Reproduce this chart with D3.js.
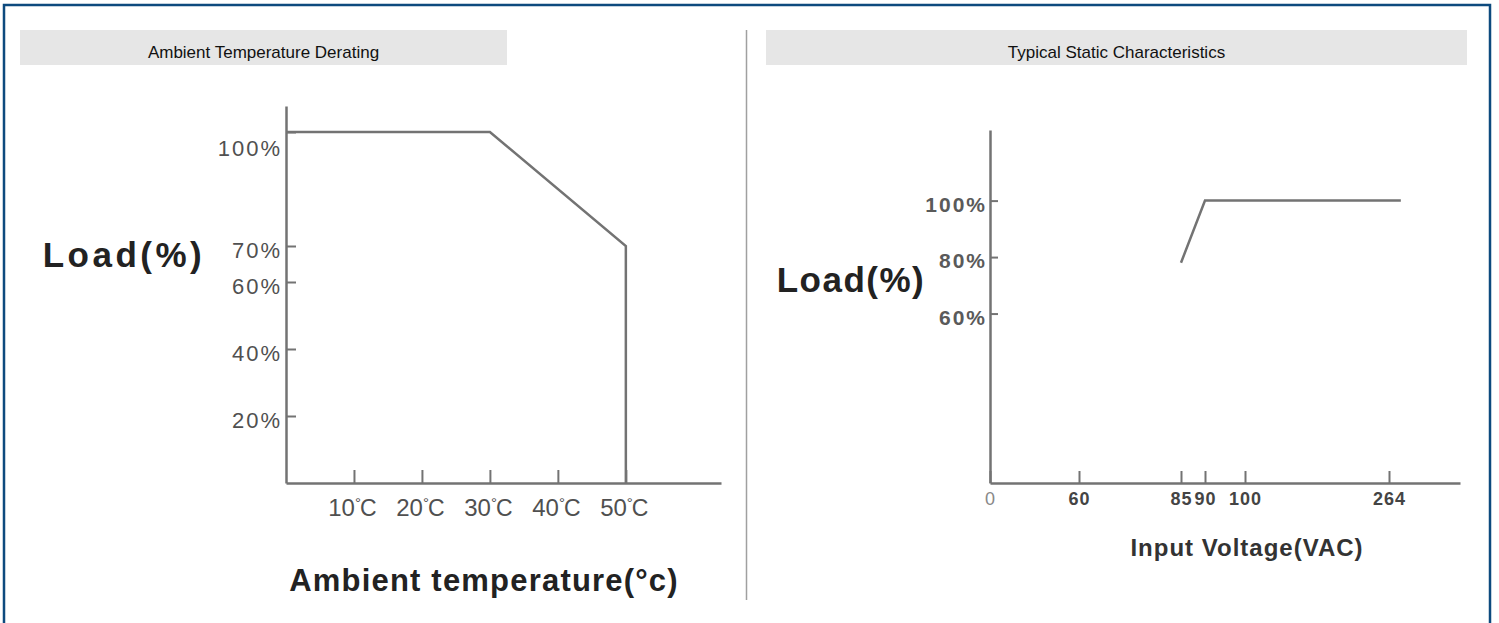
<!DOCTYPE html>
<html>
<head>
<meta charset="utf-8">
<script src="https://cdn.jsdelivr.net/npm/d3@7"></script>
<style>
  body { margin: 0; background: #fff; }
  text { font-family: "Liberation Sans", Arial, sans-serif; }
</style>
</head>
<body>
<svg id="root" width="1499" height="623"></svg>
<script>
// left chart: ambient temperature derating
var tempTicks = [10, 20, 30, 40, 50];
var tempLoadTicks = [20, 40, 60, 70, 100];
var deratingTemp = [0, 30, 50, 50];
var deratingLoad = [100, 100, 70, 0];

// right chart: typical static characteristics
var voltTicks = [0, 60, 85, 90, 100, 264];
var voltLoadTicks = [60, 80, 100];
var staticVolt = [85, 90, 270];
var staticLoad = [78, 100, 100];

var titles = ["Ambient Temperature Derating", "Typical Static Characteristics"];

var svg = d3.select("#root");
var gray = "#737373";

// frame, headers, divider
svg.append("rect").attr("x", 4).attr("y", 5).attr("width", 1486).attr("height", 640)
  .attr("fill", "none").attr("stroke", "#0d4a7e").attr("stroke-width", 2.5);

var headers = [{ x: 20, w: 487 }, { x: 766, w: 701 }];
headers.forEach(function(h, i) {
  svg.append("rect").attr("x", h.x).attr("y", 30).attr("width", h.w).attr("height", 35)
    .attr("fill", "#e6e6e6");
  svg.append("text").attr("x", h.x + h.w / 2).attr("y", 58)
    .attr("text-anchor", "middle").attr("font-size", 17).attr("fill", "#111")
    .text(titles[i]);
});
svg.append("line").attr("x1", 746.5).attr("x2", 746.5).attr("y1", 30).attr("y2", 600)
  .attr("stroke", "#a0a0a0").attr("stroke-width", 1.5);

var lineFunction = d3.line().x(function(d) { return d[0]; }).y(function(d) { return d[1]; });

function styleAxis(g) {
  g.select(".domain").attr("stroke", gray).attr("stroke-width", 2.5);
  g.selectAll(".tick line").attr("stroke", gray).attr("stroke-width", 2);
}

// ---------- left chart ----------
var xL = d3.scaleLinear().domain([0, 64]).range([286, 721]);
var yL = d3.scaleLinear().domain([0, 20, 40, 60, 70, 100, 107]).range([483, 416, 349, 282, 246, 132, 106]);

var left = svg.append("g");

var yAxisL = left.append("g").attr("transform", "translate(" + xL(0) + ",0)")
  .call(d3.axisLeft(yL).tickValues(tempLoadTicks).tickSizeInner(-10).tickSizeOuter(0)
    .tickPadding(4).tickFormat(function(d) { return d + "%"; }));
styleAxis(yAxisL);
yAxisL.selectAll(".tick text")
  .attr("font-size", 22).attr("letter-spacing", 2).attr("fill", "#505050").attr("font-family", null)
  .attr("dy", function(d) { return d === 100 ? "1.05em" : "0.5em"; });

var xAxisL = left.append("g").attr("transform", "translate(0," + yL(0) + ")")
  .call(d3.axisBottom(xL).tickValues(tempTicks).tickSizeInner(-13).tickSizeOuter(0)
    .tickFormat(""));
styleAxis(xAxisL);

var tl = left.selectAll(".tlab").data(tempTicks).enter().append("g").attr("class", "tlab");
tl.append("text").attr("x", function(d) { return xL(d) + 1; }).attr("y", 516)
  .attr("text-anchor", "end").attr("font-size", 24).attr("fill", "#505050")
  .text(function(d) { return d; });
var deg = tl.append("text").attr("x", function(d) { return xL(d) + 1; }).attr("y", 516)
  .attr("fill", "#505050");
deg.append("tspan").attr("font-size", 15).attr("dy", -8).text("°");
deg.append("tspan").attr("font-size", 23).attr("dy", 8).attr("dx", -1).text("C");

left.append("path")
  .attr("d", lineFunction(deratingTemp.map(function(t, i) { return [xL(t), yL(deratingLoad[i])]; })))
  .attr("fill", "none").attr("stroke", gray).attr("stroke-width", 2.5);

left.append("text").attr("x", 124).attr("y", 267).attr("text-anchor", "middle")
  .attr("font-size", 35).attr("font-weight", "bold").attr("letter-spacing", 3.5).attr("fill", "#222")
  .text("Load(%)");
left.append("text").attr("x", 484).attr("y", 591).attr("text-anchor", "middle")
  .attr("font-size", 31).attr("font-weight", "bold").attr("letter-spacing", 1.2).attr("fill", "#222")
  .text("Ambient temperature(°c)");

// ---------- right chart ----------
var xR = d3.scaleLinear().domain([0, 60, 85, 90, 100, 264, 300])
  .range([990, 1079, 1181, 1205, 1245, 1389, 1460]);
var yR = d3.scaleLinear().domain([0, 125]).range([483, 130]);

var right = svg.append("g");

var yAxisR = right.append("g").attr("transform", "translate(" + xR(0) + ",0)")
  .call(d3.axisLeft(yR).tickValues(voltLoadTicks).tickSizeInner(-8).tickSizeOuter(0)
    .tickPadding(3).tickFormat(function(d) { return d + "%"; }));
styleAxis(yAxisR);
yAxisR.selectAll(".tick text")
  .attr("font-size", 21).attr("font-weight", "bold").attr("letter-spacing", 2)
  .attr("fill", "#5a5a5a").attr("font-family", null).attr("dy", "0.5em");

var xAxisR = right.append("g").attr("transform", "translate(0," + yR(0) + ")")
  .call(d3.axisBottom(xR).tickValues(voltTicks).tickSizeInner(-12).tickSizeOuter(0).tickPadding(9));
styleAxis(xAxisR);
xAxisR.selectAll(".tick text")
  .attr("font-size", 18).attr("font-family", null)
  .attr("font-weight", function(d) { return d === 0 ? "normal" : "bold"; })
  .attr("fill", function(d) { return d === 0 ? "#888" : "#444"; })
  .attr("letter-spacing", 1);

right.append("path")
  .attr("d", lineFunction(staticVolt.map(function(v, i) { return [xR(v), yR(staticLoad[i])]; })))
  .attr("fill", "none").attr("stroke", gray).attr("stroke-width", 2.5);

right.append("text").attr("x", 851).attr("y", 292).attr("text-anchor", "middle")
  .attr("font-size", 35).attr("font-weight", "bold").attr("letter-spacing", 1.5).attr("fill", "#222")
  .text("Load(%)");
right.append("text").attr("x", 1247).attr("y", 556).attr("text-anchor", "middle")
  .attr("font-size", 24).attr("font-weight", "bold").attr("letter-spacing", 1).attr("fill", "#333")
  .text("Input Voltage(VAC)");
</script>
</body>
</html>
